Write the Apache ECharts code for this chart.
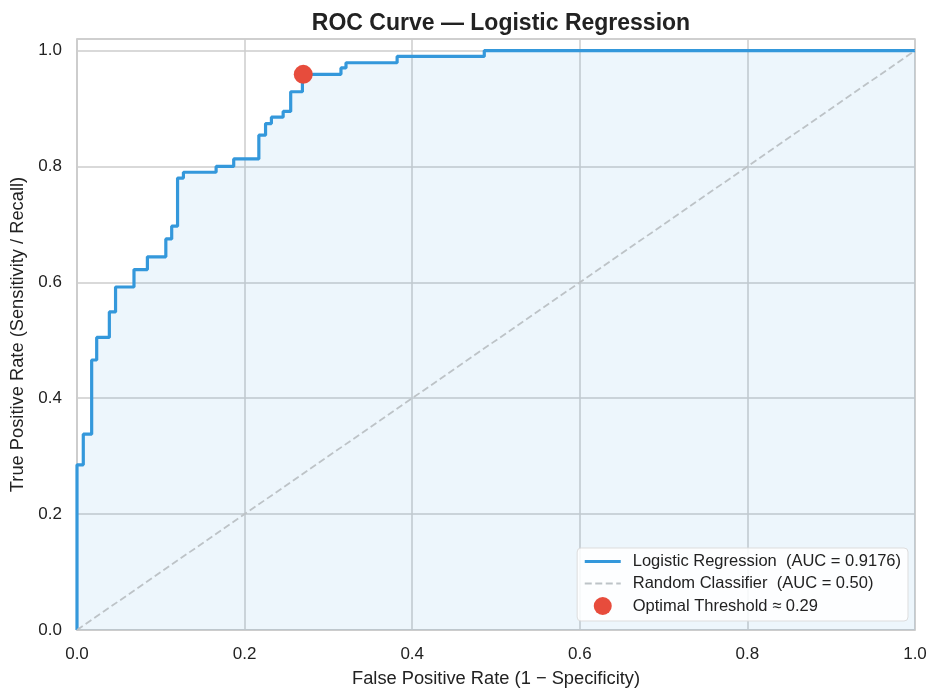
<!DOCTYPE html>
<html lang="en">
<head>
    <meta charset="UTF-8">
    <title>ROC Curve</title>
    <script src="https://cdn.jsdelivr.net/npm/echarts@6/dist/echarts.min.js"></script>
</head>
<body style="margin:0;">
<div id="main" style="width: 940px;height:700px;"></div>

<script type="text/javascript">
    // ROC points (corners of the step curve)
    var fpr = [0, 0, 0.0075, 0.0175, 0.0235, 0.0386, 0.046, 0.068, 0.084, 0.106, 0.113, 0.120, 0.127,
               0.166, 0.187, 0.217, 0.225, 0.232, 0.246, 0.255, 0.269, 0.315, 0.321, 0.382, 0.486, 1.0];
    var tpr = [0, 0.285, 0.338, 0.466, 0.505, 0.549, 0.592, 0.622, 0.644, 0.675, 0.697, 0.780, 0.790,
               0.800, 0.813, 0.854, 0.874, 0.885, 0.895, 0.929, 0.959, 0.970, 0.979, 0.990, 1.0, 1.0];
    var diagX = [0, 1];
    var diagY = [0, 1];
    var optimal = [0.270, 0.959];

    var rocData = [];
    for (var i = 0; i < fpr.length; i++) {
        rocData.push([fpr[i], tpr[i]]);
    }
    var diagData = [];
    for (var j = 0; j < diagX.length; j++) {
        diagData.push([diagX[j], diagY[j]]);
    }

    var myChart = echarts.init(document.getElementById('main'));
    var font = '"Liberation Sans", Arial, sans-serif';

    var option = {
        backgroundColor: '#fff',
        textStyle: { fontFamily: font },
        title: {
            text: 'ROC Curve \u2014 Logistic Regression',
            left: 496,
            top: 7,
            textAlign: 'center',
            textStyle: { fontSize: 23, fontWeight: 'bold', color: '#222', fontFamily: font }
        },
        grid: {
            left: 77, right: 25, top: 39, bottom: 70,
            show: true, borderColor: '#cccccc', borderWidth: 1.5
        },
        legend: {
            orient: 'vertical',
            right: 32,
            bottom: 79,
            itemWidth: 36,
            itemHeight: 18,
            itemGap: 5,
            padding: [5, 7, 6, 6],
            backgroundColor: 'rgba(255,255,255,0.85)',
            borderColor: '#dddddd',
            borderWidth: 1,
            borderRadius: 4,
            textStyle: { fontSize: 16.5, color: '#222', fontFamily: font, padding: [0, 0, 0, 7] },
            data: [
                { name: 'Logistic Regression  (AUC = 0.9176)', itemStyle: { opacity: 0 },
                  lineStyle: { width: 3.2, color: '#3498db' } },
                { name: 'Random Classifier  (AUC = 0.50)', itemStyle: { opacity: 0 },
                  lineStyle: { width: 2, color: '#bdc3c7', type: [7, 3.5] } },
                { name: 'Optimal Threshold \u2248 0.29', icon: 'circle' }
            ]
        },
        xAxis: {
            type: 'value',
            min: 0, max: 1, interval: 0.2,
            name: 'False Positive Rate (1 \u2212 Specificity)',
            nameLocation: 'middle',
            nameGap: 40,
            nameTextStyle: { fontSize: 18.3, color: '#222' },
            axisLine: { show: true, lineStyle: { color: '#cccccc', width: 1.5 } },
            axisTick: { show: false },
            axisLabel: { fontSize: 17, color: '#222', margin: 16,
                formatter: function (v) { return v.toFixed(1); } },
            splitLine: { lineStyle: { color: '#cccccc', width: 1.5 } }
        },
        yAxis: {
            type: 'value',
            min: 0, max: 1.02, interval: 0.2,
            name: 'True Positive Rate (Sensitivity / Recall)',
            nameLocation: 'middle',
            nameGap: 50,
            nameTextStyle: { fontSize: 18.3, color: '#222' },
            axisLine: { show: true, lineStyle: { color: '#cccccc', width: 1.5 } },
            axisTick: { show: false },
            axisLabel: { fontSize: 17, color: '#222', margin: 15, showMaxLabel: false,
                formatter: function (v) { return v.toFixed(1); } },
            splitLine: { lineStyle: { color: '#cccccc', width: 1.5 } }
        },
        series: [
            {
                name: 'Logistic Regression  (AUC = 0.9176)',
                type: 'line',
                step: 'end',
                symbol: 'none',
                data: rocData,
                lineStyle: { color: '#3498db', width: 3.2 },
                itemStyle: { color: '#3498db' },
                areaStyle: { color: 'rgba(52,152,219,0.12)' },
                z: 3
            },
            {
                name: 'Random Classifier  (AUC = 0.50)',
                type: 'line',
                symbol: 'none',
                data: diagData,
                lineStyle: { color: '#bdc3c7', width: 1.8, type: [7, 3.5] },
                itemStyle: { color: '#bdc3c7' },
                z: 4
            },
            {
                name: 'Optimal Threshold \u2248 0.29',
                type: 'scatter',
                symbol: 'circle',
                symbolSize: 19,
                data: [optimal],
                itemStyle: { color: '#e74c3c', opacity: 1 },
                z: 5
            }
        ]
    };

    myChart.setOption(option);
</script>
</body>
</html>
